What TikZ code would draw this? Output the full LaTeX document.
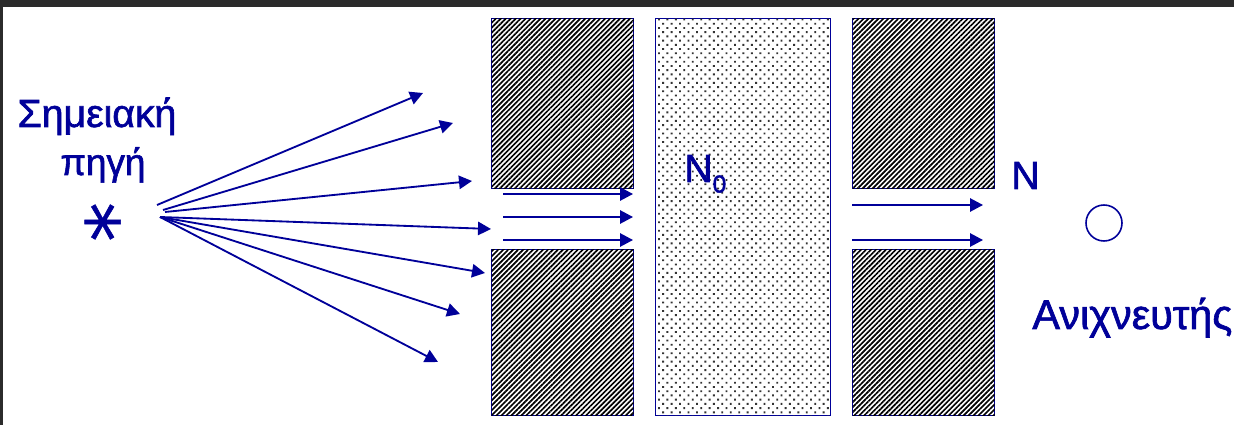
\documentclass[tikz,border=0pt]{standalone}
\usepackage{fontspec}
\setmainfont{Liberation Sans}
\newfontfamily\lblfont{Liberation Sans}[FakeBold=1.6]
\newfontfamily\starfont{DejaVu Sans}[FakeBold=0.7]
\usetikzlibrary{arrows.meta,patterns.meta}
\definecolor{inkblue}{HTML}{000099}
\definecolor{frame}{HTML}{2B2B2B}
\tikzset{
    hatchblock/.style={rectangle, draw=inkblue, line width=0.7pt, inner sep=0pt, anchor=north west, minimum width=2.84cm, fill=white,
        postaction={pattern={Lines[angle=45, distance=2pt, line width=0.95pt]}, pattern color=black}},
    dotblock/.style={rectangle, draw=inkblue, line width=0.7pt, inner sep=0pt, anchor=north west, minimum width=3.5cm, minimum height=7.94cm, fill=white,
        postaction={pattern={Dots[distance=3.4pt, angle=45, radius=0.75pt]}, pattern color=black!80}},
    ray/.style={inkblue, line width=1.05pt, -{Triangle[length=7.4pt, width=7.6pt]}},
    label/.style={inkblue, inner sep=0pt, font=\lblfont\fontsize{22.3}{26}\selectfont}
}
\begin{document}
\begin{tikzpicture}[x=0.02cm, y=-0.02cm]
    \useasboundingbox (0,0) rectangle (1234,425);
    \fill[frame] (0,0) rectangle (1234,7);
    \fill[frame] (0,0) rectangle (3,425);

    % blocks
    \node[hatchblock, minimum height=3.4cm](tl)at(491,18){};
    \node[hatchblock, minimum height=3.32cm](bl)at(491,249){};
    \node[dotblock](mid)at(655,18){};
    \node[hatchblock, minimum height=3.4cm](tr)at(852,18){};
    \node[hatchblock, minimum height=3.32cm](br)at(852,249){};

    % source and detector
    \node[label, anchor=base](src)at(97,127){Σημειακή};
    \node[label, anchor=base, font=\lblfont\fontsize{21}{26}\selectfont](srcb)at(103,175){πηγή};
    \node[inkblue, inner sep=0pt, rotate=90, font=\starfont\fontsize{45}{45}\selectfont](star)at(114,222){*};
    \node[circle, draw=inkblue, line width=0.9pt, minimum size=0.72cm, inner sep=0pt](det)at(1104,223){};
    \node[label, anchor=base west, font=\lblfont\fontsize{23.6}{26}\selectfont](dname)at(1032,329){Ανιχνευτής};
    \node[label, anchor=base west](n)at(1011,189){N};
    \node[label, anchor=base west](nz)at(684,182){N\raisebox{-6pt}{\fontsize{14}{14}\selectfont 0}};

    % rays from the source
    \foreach \i/\sx/\sy/\ex/\ey in {a/157/205/423/93, b/163/210/453/123, c/165/212/472/181, d/160/217/491/229, e/160/217/485/273, f/160/217/460/314, g/160/217/438/362}{
        \coordinate (s\i) at (\sx,\sy);
        \coordinate (e\i) at (\ex,\ey);
        \draw[ray] (s\i)--(e\i);
    }
    % beam between the blocks
    \foreach \i/\sx/\y/\ex in {p/503/194/633, q/503/217/633, r/503/240/633, t/852/205/983, u/852/240/983}{
        \coordinate (s\i) at (\sx,\y);
        \coordinate (e\i) at (\ex,\y);
        \draw[ray] (s\i)--(e\i);
    }
\end{tikzpicture}
\end{document}
